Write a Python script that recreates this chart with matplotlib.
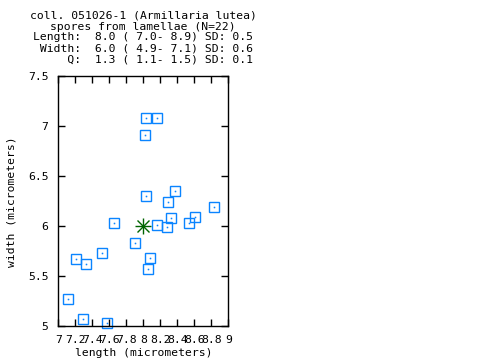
import matplotlib
matplotlib.use("Agg")
import matplotlib.pyplot as plt

title_lines = [
    "coll. 051026-1 (Armillaria lutea)",
    "spores from lamellae (N=22)",
    "Length:  8.0 ( 7.0- 8.9) SD: 0.5",
    " Width:  6.0 ( 4.9- 7.1) SD: 0.6",
    "     Q:  1.3 ( 1.1- 1.5) SD: 0.1",
]

length = [8.035, 8.376, 8.294, 8.835, 7.659, 8.165, 8.329, 8.282, 8.541, 8.612, 7.906,
          7.518, 7.212, 7.329, 8.082, 8.059, 7.118, 7.294, 7.576, 8.035, 8.165, 8.024]
width = [6.30, 6.35, 6.24, 6.19, 6.03, 6.013, 6.08, 5.99, 6.03, 6.09, 5.83,
         5.733, 5.67, 5.62, 5.68, 5.57, 5.27, 5.07, 5.03, 7.08, 7.08, 6.91]
mean_length = 8.0
mean_width = 6.0

xticks = [7, 7.2, 7.4, 7.6, 7.8, 8, 8.2, 8.4, 8.6, 8.8, 9]
xtick_labels = ["7", "7.2", "7.4", "7.6", "7.8", "8", "8.2", "8.4", "8.6", "8.8", "9"]
yticks = [5, 5.5, 6, 6.5, 7, 7.5]
ytick_labels = ["5", "5.5", "6", "6.5", "7", "7.5"]

FONT = "DejaVu Sans Mono"
FS = 8.2
blue = "#0a84ff"
green = "#006400"

fig = plt.figure(figsize=(4.8, 3.6), dpi=100)
ax = fig.add_axes([58.3 / 480, 1 - 326.3 / 360, 170 / 480, 250 / 360])
ax.set_xlim(7, 9)
ax.set_ylim(5, 7.5)

ax.plot(length, width, linestyle="none", marker="s", markersize=7.6,
        markerfacecolor="none", markeredgecolor=blue, markeredgewidth=1.0, clip_on=False)
ax.plot(length, width, linestyle="none", marker="s", markersize=0.8,
        markerfacecolor=blue, markeredgecolor=blue, markeredgewidth=0.3, clip_on=False)
ax.plot([mean_length], [mean_width], linestyle="none", marker="+", markersize=11,
        markeredgecolor=green, markeredgewidth=1.0)
ax.plot([mean_length], [mean_width], linestyle="none", marker="x", markersize=8,
        markeredgecolor=green, markeredgewidth=1.0)

ax.set_xticks(xticks)
ax.set_xticklabels(xtick_labels, fontfamily=FONT, fontsize=FS)
ax.set_yticks(yticks)
ax.set_yticklabels(ytick_labels, fontfamily=FONT, fontsize=FS)
ax.tick_params(axis="x", direction="in", length=5, width=1, top=True, pad=6)
ax.tick_params(axis="y", direction="in", length=5, width=1, right=True, pad=7)
for s in ax.spines.values():
    s.set_linewidth(1.0)

ax.set_xlabel("length (micrometers)", fontfamily=FONT, fontsize=FS, va="center")
ax.xaxis.set_label_coords(0.5, -(353 - 326.3) / 250)
ax.set_ylabel("width (micrometers)", fontfamily=FONT, fontsize=FS, va="center")
ax.yaxis.set_label_coords(-(58.3 - 12) / 170, 0.5)

for i, line in enumerate(title_lines):
    fig.text(143.3 / 480, 1 - (15.5 + 11 * i) / 360, line, ha="center", va="center",
             fontfamily=FONT, fontsize=FS)

fig.savefig("out.png", dpi=100)
